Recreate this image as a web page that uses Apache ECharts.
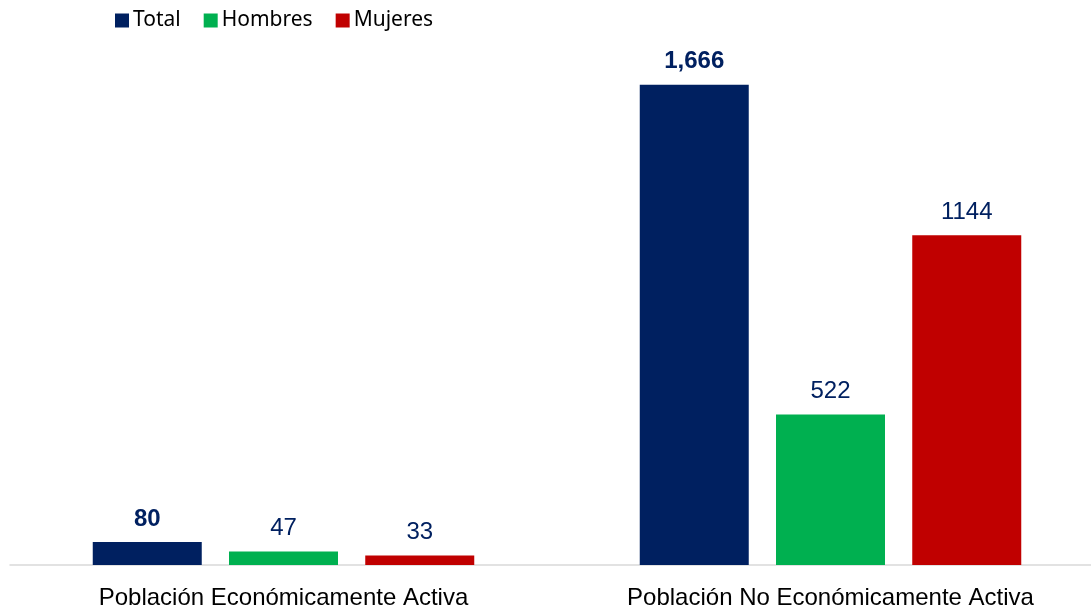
<!DOCTYPE html>
<html>
<head>
<meta charset="utf-8">
<script src="https://cdn.jsdelivr.net/npm/echarts@6/dist/echarts.min.js"></script>
<style>
  html, body { margin: 0; padding: 0; background: #fff; }
  #chart { width: 1091px; height: 610px; }
</style>
</head>
<body>
<div id="chart"></div>
<script>
// datos
const categories = ['Población Económicamente Activa', 'Población No Económicamente Activa']
const total = [80, 1666]
const hombres = [47, 522]
const mujeres = [33, 1144]

const COLORS = {
  total: '#002060',
  hombres: '#00B050',
  mujeres: '#C00000'
}

const myChart = echarts.init(document.getElementById('chart'))

const labelBase = {
  show: true,
  position: 'top',
  distance: 11,
  color: '#002060',
  fontSize: 24,
  fontFamily: 'Liberation Sans, Arial, sans-serif'
}

const option = {
  animation: false,
  legend: {
    left: 110,
    top: 5,
    itemWidth: 14,
    itemHeight: 14,
    itemGap: 23,
    icon: 'rect',
    textStyle: {
      fontSize: 21,
      color: '#000',
      fontFamily: 'Noto Sans, sans-serif',
      padding: [0, 0, 0, -1]
    }
  },
  grid: {
    left: 10,
    top: 46,
    width: 1094,
    bottom: 45,
    containLabel: false,
    outerBoundsMode: 'none'
  },
  xAxis: {
    type: 'category',
    data: categories,
    axisLine: { lineStyle: { color: '#D9D9D9', width: 1.5 } },
    axisTick: { show: false },
    axisLabel: {
      color: '#000',
      fontSize: 24,
      margin: 21,
      fontFamily: 'Liberation Sans, Arial, sans-serif'
    }
  },
  yAxis: {
    type: 'value',
    min: 0,
    max: 1800,
    show: false,
    splitLine: { show: false }
  },
  series: [
    {
      name: 'Total',
      type: 'bar',
      data: total,
      barWidth: 109,
      barGap: '25%',
      barCategoryGap: '30%',
      itemStyle: { color: COLORS.total },
      label: {
        ...labelBase,
        fontWeight: 'bold',
        formatter: (p) => p.value.toLocaleString('en-US')
      }
    },
    {
      name: 'Hombres',
      type: 'bar',
      data: hombres,
      barWidth: 109,
      barGap: '25%',
      itemStyle: { color: COLORS.hombres },
      label: { ...labelBase, formatter: '{c}' }
    },
    {
      name: 'Mujeres',
      type: 'bar',
      data: mujeres,
      barWidth: 109,
      barGap: '25%',
      itemStyle: { color: COLORS.mujeres },
      label: { ...labelBase, formatter: '{c}' }
    }
  ]
}

myChart.setOption(option)
</script>
</body>
</html>
